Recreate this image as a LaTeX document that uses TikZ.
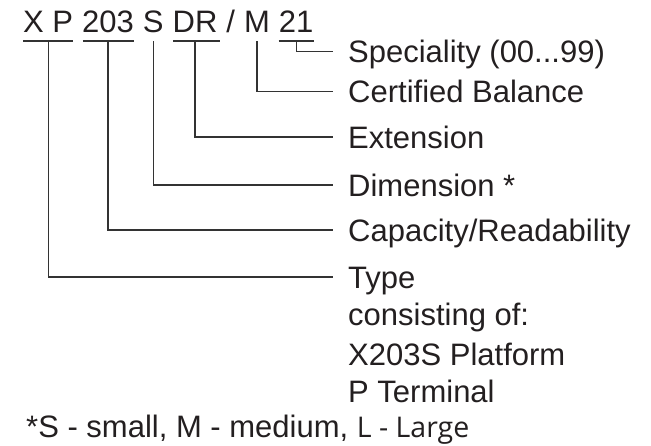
\documentclass[tikz,border=0pt]{standalone}
\usepackage{fontspec}
\setmainfont{Liberation Sans}
\newfontfamily\footsans{Open Sans}
\usetikzlibrary{calc}
\definecolor{inkText}{HTML}{231F20}
\definecolor{inkLine}{HTML}{333333}
\newlength{\codegap}
\setlength{\codegap}{8.62pt}
\tikzset{
  base/.style={font=\fontsize{31}{37}\selectfont, text=inkText},
  codepart/.style={base, anchor=base west, inner sep=0pt},
  tag/.style={base, anchor=west, inner xsep=15pt, inner ysep=0pt,
              text height=22.2pt, text depth=0pt},
  subline/.style={base, anchor=base west, inner sep=0pt},
  uline/.style={draw=inkLine, line width=1.1pt},
  link/.style={draw=inkLine, line width=1.1pt},
}
\begin{document}
\begin{tikzpicture}[x=1pt, y=-1pt]
\useasboundingbox (0,0) rectangle (651,445);

% the type code, one node per field
\node[codepart] (cXP) at (23,32) {X P};
\node[codepart] (c203) at ([xshift=\codegap]cXP.base east) {203};
\node[codepart] (cS) at ([xshift=\codegap]c203.base east) {S};
\node[codepart] (cDR) at ([xshift=\codegap]cS.base east) {DR};
\node[codepart] (cSlash) at ([xshift=\codegap]cDR.base east) {/};
\node[codepart] (cM) at ([xshift=\codegap]cSlash.base east) {M};
\node[codepart] (c21) at ([xshift=\codegap]cM.base east) {21};

% points just under each field
\foreach \f in {cXP,c203,cS,cDR,cM,c21}{
  \coordinate (u\f) at ($(\f.base)+(0,9)$);
}

% underlines
\draw[uline] ($(cXP.base west)+(0,9)$) -- ($(cXP.base east)+(0,9)$);
\draw[uline] ($(c203.base west)+(1,9)$) -- ($(c203.base east)+(0,9)$);
\draw[uline] ($(cDR.base west)+(1,9)$) -- ($(cDR.base east)+(2,9)$);
\draw[uline] ($(c21.base west)+(0,9)$) -- ($(c21.base east)+(0,9)$);

% labels
\node[tag] (lSpec) at (333,51.5) {Speciality (00...99)};
\node[tag] (lCert) at (333,91.5) {Certified Balance};
\node[tag] (lExt)  at (333,137)  {Extension};
\node[tag] (lDim)  at (333,185)  {Dimension *};
\node[tag] (lCap)  at (333,230)  {Capacity/Readability};
\node[tag] (lType) at (333,277)  {Type};
\node[subline] (lType2) at (348,325) {consisting of:};
\node[subline] (lType3) at (348,365) {X203S Platform};
\node[subline] (lType4) at (348,402) {P Terminal};

% leader lines
\draw[link] (uc21) |- (lSpec.west);
\draw[link] (ucM)  |- (lCert.west);
\draw[link] (ucDR) |- (lExt.west);
\draw[link] (ucS)  |- (lDim.west);
\draw[link] (uc203) |- (lCap.west);
\draw[link] (ucXP) |- (lType.west);

% footnote
\node[subline] (foot) at (26,437) {*S - small, M - medium, {\footsans\fontsize{28.5}{33}\selectfont L - Large}};
\end{tikzpicture}
\end{document}
